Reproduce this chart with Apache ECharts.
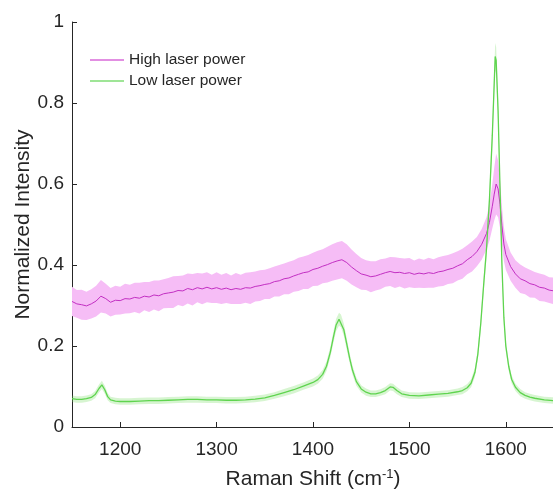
<!DOCTYPE html>
<html>
<head>
<meta charset="utf-8">
<script src="https://cdn.jsdelivr.net/npm/echarts@6/dist/echarts.min.js"></script>
<style>
  html, body { margin: 0; padding: 0; background: #fff; }
  #chart { width: 553px; height: 492px; }
</style>
</head>
<body>
<div id="chart"></div>
<script>
// High laser power: mean spectrum and half width of the shaded band
const hiShift = [
  1150, 1155, 1160, 1165, 1170, 1175, 1180, 1185, 1190, 1195,
  1200, 1205, 1210, 1215, 1220, 1225, 1230, 1235, 1240, 1245,
  1250, 1255, 1260, 1265, 1270, 1275, 1280, 1285, 1290, 1295,
  1300, 1305, 1310, 1315, 1320, 1325, 1330, 1335, 1340, 1345,
  1350, 1355, 1360, 1365, 1370, 1375, 1380, 1385, 1390, 1395,
  1400, 1405, 1410, 1415, 1420, 1425, 1430, 1435, 1440, 1445,
  1450, 1455, 1460, 1465, 1470, 1475, 1480, 1485, 1490, 1495,
  1500, 1505, 1510, 1515, 1520, 1525, 1530, 1535, 1540, 1545,
  1550, 1555, 1560, 1565, 1570, 1575, 1580, 1583, 1586, 1588,
  1590, 1592, 1594, 1596, 1598, 1600, 1605, 1610, 1615, 1620,
  1625, 1630, 1635, 1640, 1645, 1650
];
const hiMean = [
  0.310, 0.304, 0.302, 0.299, 0.304, 0.311, 0.323, 0.317, 0.308, 0.313,
  0.312, 0.317, 0.316, 0.320, 0.318, 0.323, 0.321, 0.326, 0.324, 0.329,
  0.331, 0.333, 0.337, 0.336, 0.342, 0.339, 0.344, 0.341, 0.345, 0.341,
  0.344, 0.340, 0.343, 0.339, 0.342, 0.340, 0.344, 0.343, 0.347, 0.349,
  0.352, 0.354, 0.359, 0.361, 0.366, 0.368, 0.373, 0.377, 0.381, 0.383,
  0.389, 0.392, 0.397, 0.401, 0.406, 0.410, 0.413, 0.406, 0.395, 0.386,
  0.378, 0.375, 0.371, 0.373, 0.377, 0.381, 0.384, 0.381, 0.382, 0.379,
  0.381, 0.377, 0.380, 0.378, 0.381, 0.379, 0.383, 0.385, 0.389, 0.392,
  0.398, 0.403, 0.413, 0.421, 0.433, 0.451, 0.478, 0.505, 0.545, 0.575,
  0.600, 0.588, 0.550, 0.497, 0.452, 0.426, 0.396, 0.378, 0.366, 0.361,
  0.354, 0.351, 0.345, 0.343, 0.338, 0.336
];
const hiSpread = [
  0.036, 0.034, 0.037, 0.035, 0.036, 0.038, 0.040, 0.037, 0.035, 0.036,
  0.034, 0.037, 0.035, 0.036, 0.038, 0.035, 0.037, 0.036, 0.038, 0.036,
  0.037, 0.039, 0.036, 0.038, 0.037, 0.039, 0.036, 0.038, 0.037, 0.035,
  0.038, 0.036, 0.037, 0.035, 0.038, 0.036, 0.037, 0.039, 0.037, 0.038,
  0.036, 0.038, 0.037, 0.039, 0.038, 0.040, 0.039, 0.041, 0.040, 0.042,
  0.041, 0.043, 0.042, 0.044, 0.045, 0.046, 0.046, 0.045, 0.043, 0.041,
  0.039, 0.037, 0.038, 0.036, 0.037, 0.035, 0.036, 0.038, 0.035, 0.037,
  0.036, 0.034, 0.036, 0.035, 0.037, 0.035, 0.036, 0.037, 0.036, 0.037,
  0.036, 0.037, 0.036, 0.037, 0.036, 0.038, 0.040, 0.045, 0.055, 0.065,
  0.075, 0.070, 0.058, 0.048, 0.042, 0.038, 0.035, 0.034, 0.035, 0.033,
  0.034, 0.032, 0.034, 0.033, 0.032, 0.033
];

// Low laser power: mean spectrum and half width of the shaded band
const loShift = [
  1150, 1155, 1160, 1165, 1170, 1174, 1178, 1181, 1184, 1187,
  1190, 1195, 1200, 1210, 1220, 1230, 1240, 1250, 1260, 1270,
  1280, 1290, 1300, 1310, 1320, 1330, 1340, 1350, 1360, 1370,
  1380, 1390, 1400, 1405, 1410, 1414, 1418, 1421, 1424, 1427,
  1429, 1432, 1435, 1438, 1441, 1445, 1450, 1455, 1460, 1465,
  1470, 1475, 1480, 1483, 1487, 1492, 1500, 1510, 1520, 1530,
  1540, 1550, 1555, 1560, 1564, 1568, 1571, 1574, 1577, 1580,
  1583, 1586, 1588, 1589, 1590, 1592, 1594, 1596, 1598, 1600,
  1603, 1606, 1610, 1615, 1620, 1625, 1630, 1640, 1650
];
const loMean = [
  0.070, 0.068, 0.068, 0.070, 0.073, 0.080, 0.095, 0.104, 0.092, 0.075,
  0.067, 0.064, 0.063, 0.063, 0.064, 0.065, 0.065, 0.066, 0.067, 0.068,
  0.068, 0.067, 0.067, 0.066, 0.066, 0.067, 0.069, 0.072, 0.078, 0.085,
  0.092, 0.101, 0.110, 0.117, 0.130, 0.150, 0.185, 0.220, 0.252, 0.266,
  0.262, 0.240, 0.205, 0.170, 0.140, 0.112, 0.094, 0.086, 0.082, 0.082,
  0.085, 0.090, 0.099, 0.098, 0.090, 0.082, 0.078, 0.077, 0.079, 0.081,
  0.083, 0.087, 0.090, 0.097, 0.108, 0.135, 0.180, 0.255, 0.350, 0.440,
  0.560, 0.720, 0.850, 0.915, 0.905, 0.780, 0.590, 0.400, 0.270, 0.200,
  0.150, 0.118, 0.098, 0.085, 0.078, 0.074, 0.071, 0.067, 0.065
];
const loSpread = [
  0.008, 0.008, 0.008, 0.008, 0.008, 0.009, 0.010, 0.010, 0.010, 0.009,
  0.008, 0.008, 0.008, 0.008, 0.008, 0.008, 0.008, 0.008, 0.008, 0.008,
  0.008, 0.008, 0.008, 0.008, 0.008, 0.008, 0.008, 0.008, 0.008, 0.009,
  0.009, 0.009, 0.010, 0.010, 0.011, 0.012, 0.013, 0.014, 0.015, 0.016,
  0.016, 0.015, 0.014, 0.012, 0.011, 0.010, 0.009, 0.009, 0.008, 0.008,
  0.008, 0.009, 0.009, 0.009, 0.009, 0.008, 0.008, 0.008, 0.008, 0.008,
  0.008, 0.008, 0.009, 0.009, 0.010, 0.011, 0.013, 0.015, 0.018, 0.021,
  0.024, 0.028, 0.031, 0.033, 0.033, 0.030, 0.026, 0.021, 0.016, 0.013,
  0.011, 0.010, 0.009, 0.009, 0.008, 0.008, 0.008, 0.008, 0.008
];

const xTicks = [1200, 1300, 1400, 1500, 1600];
const seriesNames = ['High laser power', 'Low laser power'];

const hiColor = '#c22fc2';
const hiLegendColor = '#d86ad8';
const hiBandColor = '#f6bdf6';
const loColor = '#5fd44f';
const loLegendColor = '#7fdc74';
const loBandColor = 'rgba(110, 220, 90, 0.28)';
const axisColor = '#262626';
const font = 'Liberation Sans, Arial, sans-serif';

function pairs(xs, ys) {
  return xs.map((x, i) => [x, ys[i]]);
}

// shaded band between mean - spread and mean + spread, drawn as one polygon
function bandSeries(id, xs, mean, spread, color) {
  return {
    name: id,
    type: 'custom',
    silent: true,
    clip: true,
    data: [0],
    renderItem: function (params, api) {
      const upper = xs.map((x, i) => api.coord([x, mean[i] + spread[i]]));
      const lower = xs.map((x, i) => api.coord([x, mean[i] - spread[i]])).reverse();
      return {
        type: 'polygon',
        shape: {points: upper.concat(lower)},
        style: {fill: color, stroke: null}
      };
    }
  };
}

const chart = echarts.init(document.getElementById('chart'));

const option = {
  animation: false,
  backgroundColor: '#fff',
  textStyle: {fontFamily: font},
  grid: {
    left: 72,
    right: -1,
    top: 22,
    bottom: 65,
    containLabel: false,
    outerBoundsMode: 'none'
  },
  legend: {
    orient: 'vertical',
    left: 85,
    top: 47,
    icon: 'rect',
    itemWidth: 34,
    itemHeight: 1.5,
    itemGap: 5,
    textStyle: {fontSize: 15.5, color: axisColor, fontFamily: font, lineHeight: 16},
    data: [
      {name: seriesNames[0], itemStyle: {color: hiLegendColor}},
      {name: seriesNames[1], itemStyle: {color: loLegendColor}}
    ]
  },
  xAxis: {
    type: 'value',
    min: 1150,
    max: 1650,
    name: 'Raman Shift (cm{sup|-1})',
    nameLocation: 'middle',
    nameGap: 41,
    nameTextStyle: {
      fontSize: 21,
      color: axisColor,
      fontFamily: font,
      rich: {
        sup: {fontSize: 13, color: axisColor, fontFamily: font, verticalAlign: 'top', padding: [0, 0, 10, 0]}
      }
    },
    axisLine: {lineStyle: {color: axisColor, width: 1}},
    axisTick: {inside: true, length: 5, customValues: xTicks, lineStyle: {color: axisColor}},
    axisLabel: {
      customValues: xTicks,
      formatter: v => String(v),
      fontSize: 19,
      color: axisColor,
      fontFamily: font,
      margin: 13
    },
    splitLine: {show: false}
  },
  yAxis: {
    type: 'value',
    min: 0,
    max: 1,
    interval: 0.2,
    name: 'Normalized Intensity',
    nameLocation: 'middle',
    nameGap: 38,
    nameMoveOverlap: false,
    nameTextStyle: {fontSize: 21, color: axisColor, fontFamily: font},
    axisLine: {show: true, lineStyle: {color: axisColor, width: 1}},
    axisTick: {show: true, inside: true, length: 5, lineStyle: {color: axisColor}},
    axisLabel: {fontSize: 19, color: axisColor, fontFamily: font, margin: 8},
    splitLine: {show: false}
  },
  series: [
    bandSeries('hiBand', hiShift, hiMean, hiSpread, hiBandColor),
    bandSeries('loBand', loShift, loMean, loSpread, loBandColor),
    {
      name: seriesNames[0],
      type: 'line',
      data: pairs(hiShift, hiMean),
      symbol: 'none',
      color: hiColor,
      lineStyle: {color: hiColor, width: 1}
    },
    {
      name: seriesNames[1],
      type: 'line',
      data: pairs(loShift, loMean),
      symbol: 'none',
      color: loColor,
      lineStyle: {color: loColor, width: 1.3}
    }
  ]
};

chart.setOption(option);
</script>
</body>
</html>
